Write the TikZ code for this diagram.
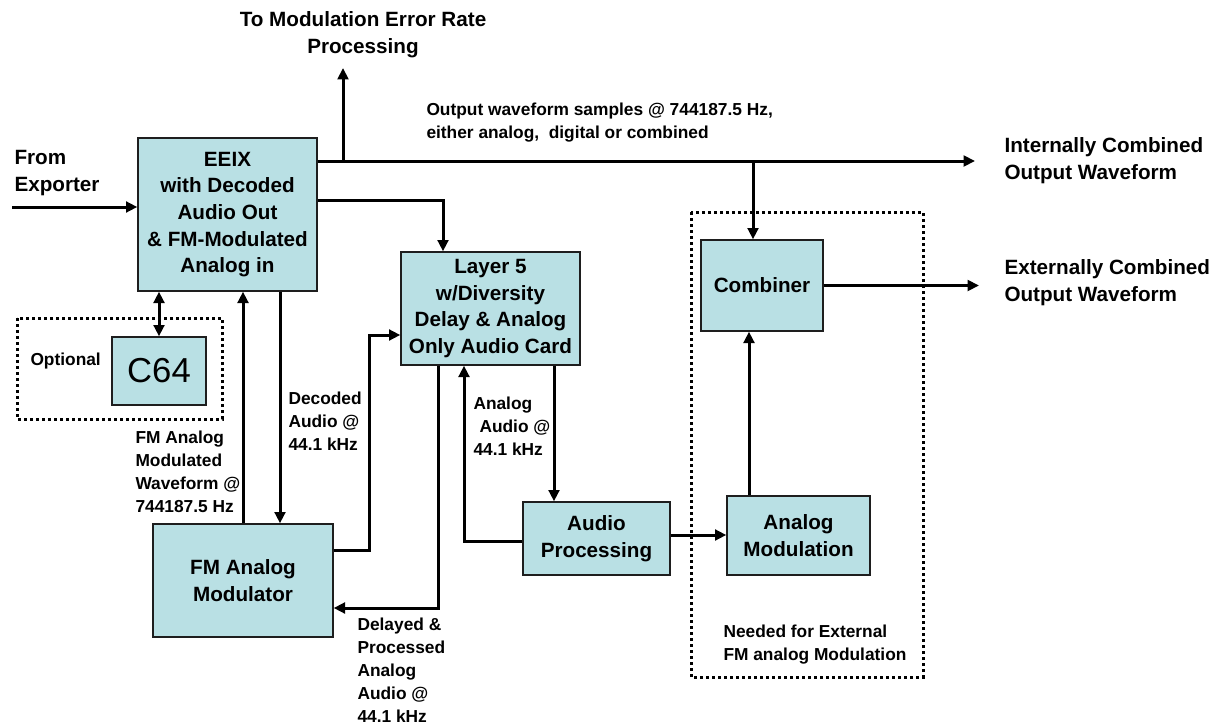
\documentclass[tikz,border=0pt]{standalone}
\usepackage{fontspec}
\setmainfont{Liberation Sans}
\usetikzlibrary{arrows.meta}

\definecolor{boxfill}{RGB}{185,224,228}
\newcommand{\bigfont}{\fontsize{15.5}{20}\selectfont\bfseries}
\newcommand{\smallfont}{\fontsize{13}{17.25}\selectfont\bfseries}

\tikzset{every picture/.style={line width=0.75pt}}
\tikzset{
  blk/.style={draw={rgb, 255:red, 30; green, 30; blue, 30}, fill=boxfill, line width=1pt, align=center, inner sep=0pt, font=\bigfont},
  flow/.style={line width=2.25pt, -{Triangle[length=8.5pt,width=8pt]}},
  biflow/.style={line width=2.25pt, {Triangle[length=8.5pt,width=8pt]}-{Triangle[length=8.5pt,width=8pt]}},
  dotbox/.style={line width=2.25pt, dash pattern={on 2.25pt off 2.25pt}},
  lbl/.style={anchor=north west, inner sep=0.75pt, align=left, font=\smallfont},
  biglbl/.style={anchor=north west, inner sep=0.75pt, align=left, font=\bigfont},
}

\begin{document}
\begin{tikzpicture}[x=0.75pt,y=0.75pt,yscale=-1,xscale=1]
        \path (0,0) rectangle (1224,725); %set diagram size

        %Dotted frames
        \draw [dotbox] (17,318) rectangle (222,419);
        \draw [dotbox] (691,212) rectangle (923,677);

        %Blocks
        \node [blk, minimum width=134.25pt, minimum height=114.75pt] (eeix) at (227.5,214.5) {EEIX\\with Decoded\\Audio Out\\\& FM-Modulated\\Analog in};
        \node [blk, minimum width=70.5pt, minimum height=51pt, font=\fontsize{26}{26}\selectfont] (c64) at (159,371) {C64};
        \node [blk, minimum width=134.25pt, minimum height=84.75pt] (layer5) at (490.5,308.5) {Layer 5\\w/Diversity\\Delay \& Analog\\Only Audio Card};
        \node [blk, minimum width=135pt, minimum height=84.75pt] (fmmod) at (243,580.5) {FM Analog\\Modulator};
        \node [blk, minimum width=110.25pt, minimum height=54.75pt] (audproc) at (596.5,538.5) {Audio\\Processing};
        \node [blk, minimum width=107.25pt, minimum height=59.25pt] (anamod) at (798.5,535.5) {Analog\\Modulation};
        \node [blk, minimum width=91.5pt, minimum height=68.25pt] (combiner) at (762,285.5) {Combiner};

        %Free ends
        \coordinate (exporter) at (12,207);
        \coordinate (mer) at (343,68);
        \coordinate (intout) at (975,161);
        \coordinate (extout) at (979,285.5);
        \coordinate (tap) at (753,161);
        \coordinate (l5in) at (443,200);
        \coordinate (jog) at (369,335);
        \coordinate (dly) at (438,608);
        \coordinate (ret) at (464,541);

        %Connectors
        \draw [flow] (exporter) -- (exporter -| eeix.west);
        \draw [flow] (eeix.east |- intout) -- (intout);
        \draw [flow] (mer |- intout) -- (mer);
        \draw [flow] (tap) -- (tap |- combiner.north);
        \draw [flow] (eeix.east |- l5in) -| (l5in |- layer5.north);
        \draw [biflow] (c64.north) -- (c64.north |- eeix.south);
        \draw [flow] (fmmod.north) -- (fmmod.north |- eeix.south);
        \draw [flow] (280,0 |- eeix.south) -- (280,0 |- fmmod.north);
        \draw [flow] (fmmod.east |- 0,550) -- (jog |- 0,550) -- (jog) -- (jog -| layer5.west);
        \draw [flow] (dly |- layer5.south) -- (dly) -- (dly -| fmmod.east);
        \draw [flow] (audproc.west |- ret) -- (ret) -- (ret |- layer5.south);
        \draw [flow] (554,0 |- layer5.south) -- (554,0 |- audproc.north);
        \draw [flow] (audproc.east |- 0,535) -- (anamod.west |- 0,535);
        \draw [flow] (749,0 |- anamod.north) -- (749,0 |- combiner.south);
        \draw [flow] (combiner.east) -- (extout);

        % Text Node
        \node [biglbl] (fromexp) at (13,149) {From\\Exporter};
        % Text Node
        \node [anchor=north, inner sep=0.75pt, align=center, font=\bigfont] (merlbl) at (363,10) {To Modulation Error Rate\\Processing};
        % Text Node
        \node [lbl] (outlbl) at (425,101) {Output waveform samples @ 744187.5 Hz,\\either analog,~ digital or combined};
        % Text Node
        \node [biglbl] (intlbl) at (1003,136) {Internally Combined\\Output Waveform};
        % Text Node
        \node [biglbl] (extlbl) at (1003,258) {Externally Combined\\Output Waveform};
        % Text Node
        \node [lbl] (optlbl) at (29,351) {Optional};
        % Text Node
        \node [lbl] (fmlbl) at (134,429) {FM Analog\\Modulated\\Waveform @\\744187.5 Hz};
        % Text Node
        \node [lbl] (declbl) at (287,390) {Decoded\\Audio @\\44.1 kHz};
        % Text Node
        \node [lbl] (analbl) at (472,395) {Analog\\\hspace{4.5pt}Audio @\\44.1 kHz};
        % Text Node
        \node [lbl] (dlylbl) at (356,616) {Delayed \&\\Processed\\Analog\\Audio @\\44.1 kHz};
        % Text Node
        \node [lbl] (needlbl) at (722,623) {Needed for External\\FM analog Modulation};

\end{tikzpicture}
\end{document}
